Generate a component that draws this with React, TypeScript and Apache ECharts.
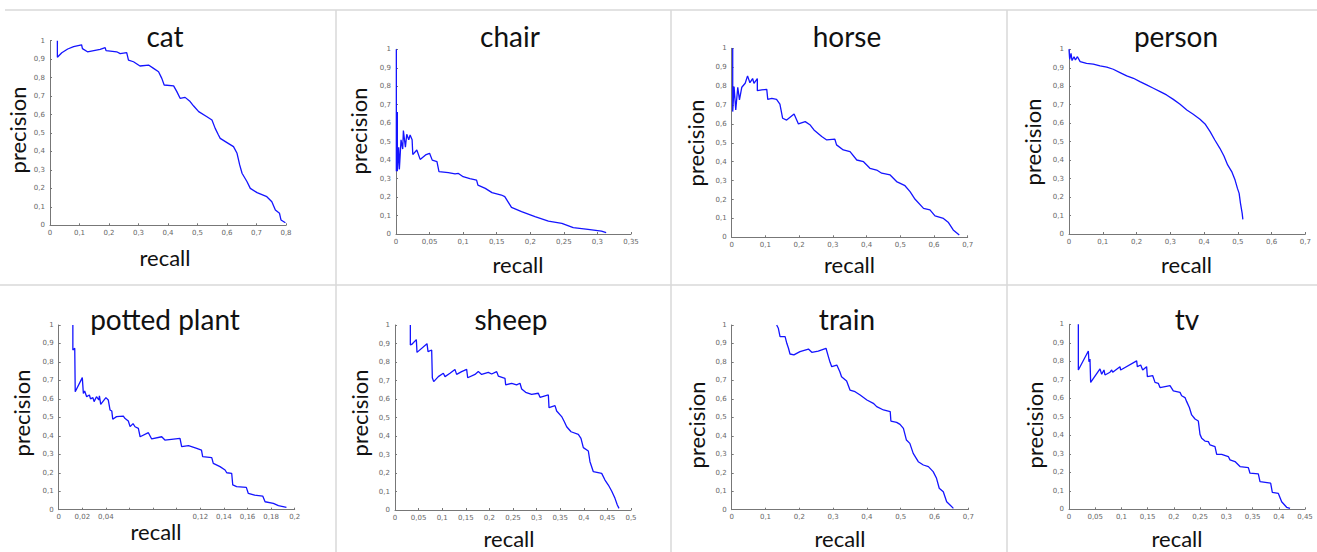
import React, { useEffect, useRef } from "react";
import * as echarts from "echarts";

// ---- Data: [recall, precision] pairs ----
const categories = ["cat", "chair", "horse", "person", "potted plant", "sheep", "train", "tv"];

const catPR = [
  [0.025, 1.0], [0.025, 0.91], [0.04, 0.935], [0.06, 0.955], [0.08, 0.968], [0.107, 0.978], [0.11, 0.957],
  [0.127, 0.94], [0.17, 0.953], [0.187, 0.962], [0.19, 0.946], [0.226, 0.94], [0.238, 0.93], [0.26, 0.935],
  [0.266, 0.895], [0.283, 0.886], [0.305, 0.863], [0.334, 0.868], [0.351, 0.85], [0.368, 0.832], [0.379, 0.796],
  [0.387, 0.76], [0.419, 0.755], [0.43, 0.724], [0.441, 0.688], [0.458, 0.693], [0.475, 0.67], [0.487, 0.646],
  [0.504, 0.616], [0.532, 0.588], [0.549, 0.57], [0.56, 0.525], [0.571, 0.489], [0.577, 0.471], [0.6, 0.448],
  [0.622, 0.426], [0.634, 0.39], [0.643, 0.327], [0.651, 0.282], [0.668, 0.236], [0.679, 0.2], [0.702, 0.177],
  [0.735, 0.155], [0.752, 0.128], [0.764, 0.083], [0.778, 0.065], [0.783, 0.029], [0.798, 0.014],
];

const chairPR = [
  [0.0005, 1.0], [0.0005, 0.34], [0.002, 0.66], [0.002, 0.34], [0.004, 0.47], [0.005, 0.35], [0.0075, 0.51],
  [0.01, 0.46], [0.011, 0.56], [0.014, 0.47], [0.016, 0.54], [0.019, 0.51], [0.021, 0.536], [0.024, 0.51],
  [0.025, 0.43], [0.031, 0.455], [0.036, 0.404], [0.044, 0.428], [0.05, 0.437], [0.054, 0.4], [0.061, 0.392],
  [0.064, 0.338], [0.078, 0.332], [0.088, 0.325], [0.093, 0.328], [0.1, 0.31], [0.11, 0.3], [0.12, 0.292],
  [0.122, 0.265], [0.133, 0.247], [0.143, 0.224], [0.157, 0.211], [0.162, 0.202], [0.172, 0.144], [0.187, 0.121],
  [0.207, 0.094], [0.227, 0.07], [0.247, 0.058], [0.264, 0.034], [0.286, 0.025], [0.306, 0.016], [0.313, 0.007],
];

const horsePR = [
  [0.003, 1.0], [0.003, 0.665], [0.007, 0.797], [0.012, 0.674], [0.018, 0.794], [0.023, 0.727], [0.03, 0.794],
  [0.04, 0.815], [0.047, 0.854], [0.054, 0.818], [0.062, 0.84], [0.066, 0.815], [0.076, 0.84], [0.076, 0.776],
  [0.089, 0.78], [0.104, 0.783], [0.107, 0.73], [0.119, 0.735], [0.133, 0.73], [0.143, 0.705], [0.151, 0.63],
  [0.163, 0.62], [0.185, 0.652], [0.198, 0.6], [0.218, 0.612], [0.233, 0.594], [0.244, 0.568], [0.267, 0.533],
  [0.282, 0.515], [0.306, 0.519], [0.311, 0.489], [0.331, 0.462], [0.351, 0.453], [0.371, 0.409], [0.391, 0.4],
  [0.41, 0.365], [0.43, 0.356], [0.445, 0.339], [0.47, 0.33], [0.489, 0.295], [0.514, 0.273], [0.529, 0.242],
  [0.544, 0.201], [0.569, 0.153], [0.588, 0.145], [0.603, 0.113], [0.628, 0.1], [0.643, 0.078], [0.657, 0.039],
  [0.675, 0.012],
];

const personPR = [
  [0.0, 1.0], [0.002, 0.946], [0.006, 0.978], [0.009, 0.939], [0.015, 0.96], [0.019, 0.942], [0.025, 0.96],
  [0.033, 0.933], [0.052, 0.924], [0.072, 0.92], [0.092, 0.91], [0.112, 0.903], [0.131, 0.892], [0.151, 0.874],
  [0.171, 0.856], [0.191, 0.843], [0.21, 0.825], [0.23, 0.807], [0.25, 0.789], [0.27, 0.771], [0.289, 0.753],
  [0.309, 0.729], [0.329, 0.702], [0.349, 0.671], [0.368, 0.648], [0.388, 0.621], [0.403, 0.596], [0.418, 0.554],
  [0.432, 0.509], [0.447, 0.464], [0.459, 0.422], [0.47, 0.374], [0.482, 0.338], [0.492, 0.292], [0.499, 0.247],
  [0.504, 0.22], [0.508, 0.166], [0.513, 0.112], [0.515, 0.079],
];

const pottedPR = [
  [0.012, 1.0], [0.012, 0.865], [0.0136, 0.874], [0.014, 0.639], [0.02, 0.715], [0.0209, 0.63], [0.022, 0.643],
  [0.0237, 0.612], [0.026, 0.621], [0.027, 0.6], [0.029, 0.607], [0.03, 0.585], [0.032, 0.612], [0.034, 0.594],
  [0.0345, 0.617], [0.0356, 0.57], [0.04, 0.607], [0.042, 0.594], [0.0435, 0.54], [0.045, 0.534], [0.0458, 0.49],
  [0.049, 0.504], [0.0548, 0.507], [0.056, 0.495], [0.059, 0.48], [0.0605, 0.45], [0.063, 0.466], [0.0647, 0.449],
  [0.0675, 0.44], [0.069, 0.395], [0.076, 0.417], [0.0788, 0.383], [0.0873, 0.395], [0.09, 0.377], [0.1028, 0.386],
  [0.1042, 0.341], [0.11, 0.347], [0.117, 0.332], [0.121, 0.323], [0.122, 0.287], [0.1297, 0.282], [0.131, 0.251],
  [0.1367, 0.233], [0.141, 0.215], [0.1424, 0.2], [0.1466, 0.197], [0.1475, 0.134], [0.1508, 0.125], [0.159, 0.121],
  [0.1607, 0.088], [0.166, 0.079], [0.1729, 0.074], [0.1749, 0.043], [0.1819, 0.034], [0.1862, 0.022], [0.193, 0.013],
];

const sheepPR = [
  [0.0325, 1.0], [0.0325, 0.892], [0.0353, 0.895], [0.0452, 0.921], [0.0466, 0.852], [0.0678, 0.899], [0.07, 0.856],
  [0.0777, 0.865], [0.0791, 0.715], [0.082, 0.694], [0.0918, 0.721], [0.1024, 0.739], [0.106, 0.721], [0.1165, 0.739],
  [0.127, 0.76], [0.1306, 0.733], [0.1412, 0.748], [0.1518, 0.76], [0.154, 0.715], [0.1695, 0.733], [0.1765, 0.748],
  [0.1836, 0.733], [0.1977, 0.744], [0.2048, 0.735], [0.2154, 0.748], [0.2189, 0.724], [0.233, 0.712], [0.2345, 0.676],
  [0.2472, 0.685], [0.2577, 0.676], [0.2648, 0.685], [0.2684, 0.654], [0.2768, 0.636], [0.2895, 0.625], [0.3037, 0.631],
  [0.3072, 0.609], [0.3249, 0.622], [0.3263, 0.553], [0.339, 0.564], [0.3425, 0.535], [0.3531, 0.505], [0.3588, 0.477],
  [0.3637, 0.45], [0.373, 0.423], [0.3884, 0.409], [0.394, 0.387], [0.399, 0.337], [0.4096, 0.319], [0.4131, 0.261],
  [0.4202, 0.207], [0.4379, 0.198], [0.4449, 0.162], [0.452, 0.135], [0.459, 0.103], [0.4661, 0.063], [0.471, 0.027],
  [0.4746, 0.009],
];

const trainPR = [
  [0.133, 1.0], [0.138, 0.982], [0.143, 0.937], [0.158, 0.937], [0.163, 0.901], [0.168, 0.874], [0.1725, 0.843],
  [0.184, 0.838], [0.202, 0.856], [0.227, 0.87], [0.237, 0.852], [0.256, 0.859], [0.279, 0.874], [0.286, 0.829],
  [0.291, 0.798], [0.296, 0.774], [0.311, 0.783], [0.32, 0.747], [0.325, 0.72], [0.34, 0.697], [0.35, 0.648],
  [0.365, 0.639], [0.38, 0.621], [0.4, 0.594], [0.419, 0.576], [0.429, 0.558], [0.449, 0.54], [0.469, 0.531],
  [0.471, 0.48], [0.488, 0.473], [0.498, 0.462], [0.508, 0.44], [0.517, 0.377], [0.527, 0.359], [0.537, 0.305],
  [0.552, 0.26], [0.567, 0.242], [0.582, 0.233], [0.596, 0.206], [0.606, 0.17], [0.614, 0.116], [0.626, 0.097],
  [0.636, 0.043], [0.646, 0.025], [0.656, 0.007],
];

const tvPR = [
  [0.0178, 1.0], [0.0178, 0.753], [0.0369, 0.856], [0.038, 0.798], [0.04, 0.812], [0.0413, 0.686], [0.0591, 0.759],
  [0.0623, 0.73], [0.0667, 0.753], [0.0686, 0.726], [0.0782, 0.741], [0.0814, 0.753], [0.0833, 0.741], [0.0972, 0.771],
  [0.0985, 0.753], [0.129, 0.802], [0.1303, 0.771], [0.1367, 0.78], [0.1405, 0.753], [0.148, 0.771], [0.1494, 0.717],
  [0.1595, 0.723], [0.164, 0.686], [0.1703, 0.681], [0.1735, 0.658], [0.1831, 0.663], [0.1926, 0.668], [0.1989, 0.64],
  [0.2117, 0.632], [0.2148, 0.614], [0.2212, 0.604], [0.2244, 0.582], [0.2295, 0.55], [0.2339, 0.51], [0.2403, 0.488],
  [0.2466, 0.477], [0.2498, 0.405], [0.253, 0.384], [0.2593, 0.369], [0.2657, 0.366], [0.2689, 0.348], [0.2784, 0.339],
  [0.2816, 0.297], [0.2911, 0.297], [0.3038, 0.285], [0.307, 0.267], [0.3165, 0.258], [0.3261, 0.231], [0.342, 0.225],
  [0.3451, 0.195], [0.361, 0.191], [0.3642, 0.15], [0.3845, 0.141], [0.3877, 0.092], [0.3992, 0.086], [0.4055, 0.041],
  [0.415, 0.011], [0.4214, 0.005],
];

const seriesData = [catPR, chairPR, horsePR, personPR, pottedPR, sheepPR, trainPR, tvPR];

// x-axis range (max) and tick step per panel
const recallMax = [0.8, 0.35, 0.7, 0.7, 0.2, 0.5, 0.7, 0.45];
const recallStep = [0.1, 0.05, 0.1, 0.1, 0.02, 0.05, 0.1, 0.05];
// recall tick labels hidden in the reference (potted plant)
const hiddenRecallTicks = [[], [], [], [], [0.06, 0.08, 0.1], [], [], []];

// ---- Layout (pixels) ----
const grids = [
  { left: 50, top: 40.7, width: 236, height: 184.6 },
  { left: 396, top: 49.3, width: 235, height: 184.7 },
  { left: 731.7, top: 48.3, width: 236, height: 189 },
  { left: 1069, top: 49.3, width: 236.3, height: 184.7 },
  { left: 58.7, top: 325, width: 236, height: 184.7 },
  { left: 395, top: 325, width: 236, height: 185 },
  { left: 731.7, top: 325, width: 236.6, height: 184.7 },
  { left: 1069, top: 324.3, width: 236, height: 185 },
];
const titlePos = [[165, 36], [510, 36], [847, 36], [1176, 36], [165, 319], [511, 319], [847, 319], [1187, 319]];
const precisionPos = [[17.5, 130], [358, 131], [695, 143], [1032, 142], [21, 413], [359, 413], [696.6, 425], [1034, 425]];
const recallPos = [[165, 257.5], [518, 264.5], [849.5, 264], [1186.5, 264], [156, 531.5], [509, 538], [840, 538], [1177, 538]];

const FONT = "Lato, 'Open Sans', 'DejaVu Sans', sans-serif";

function fmt(v: number) {
  return String(+v.toFixed(3)).replace(".", ",");
}

export default function App() {
  const ref = useRef<HTMLDivElement>(null);

  useEffect(() => {
    if (!ref.current) return;
    const chart = echarts.init(ref.current, undefined, { renderer: "svg" });

    const axisCommon = {
      axisLine: { show: true, lineStyle: { color: "#777", width: 1 } },
      axisTick: { show: true, inside: true, length: 2, lineStyle: { color: "#777" } },
      splitLine: { show: false },
    };

    const xAxis = categories.map((_, i) => ({
      type: "value",
      gridIndex: i,
      min: 0,
      max: recallMax[i],
      interval: recallStep[i],
      ...axisCommon,
      axisLabel: {
        fontSize: 7,
        color: "#666",
        fontFamily: "'DejaVu Sans', sans-serif",
        margin: 4,
        showMaxLabel: true,
        formatter: (v: number) =>
          hiddenRecallTicks[i].some((h) => Math.abs(h - v) < 1e-6) ? "" : fmt(v),
      },
    }));

    const yAxis = categories.map((_, i) => ({
      type: "value",
      gridIndex: i,
      min: 0,
      max: 1,
      interval: 0.1,
      ...axisCommon,
      axisLabel: {
        fontSize: 7,
        color: "#666",
        fontFamily: "'DejaVu Sans', sans-serif",
        margin: 5,
        formatter: (v: number) => fmt(v),
      },
    }));

    const series = seriesData.map((d, i) => ({
      type: "line",
      name: categories[i],
      xAxisIndex: i,
      yAxisIndex: i,
      data: d,
      showSymbol: false,
      symbol: "none",
      lineStyle: { color: "#1414ff", width: 1.3 },
      silent: true,
    }));

    const graphics: any[] = [];
    // separator lines
    const sep = { stroke: "#d9d9d9", lineWidth: 1.5 };
    graphics.push({ type: "line", shape: { x1: 5, y1: 10, x2: 1317, y2: 10 }, style: sep, silent: true });
    graphics.push({ type: "line", shape: { x1: 0, y1: 285, x2: 1317, y2: 285 }, style: sep, silent: true });
    [336, 671, 1007].forEach((x) =>
      graphics.push({ type: "line", shape: { x1: x, y1: 10, x2: x, y2: 552 }, style: sep, silent: true })
    );

    categories.forEach((c, i) => {
      graphics.push({
        type: "text",
        x: titlePos[i][0],
        y: titlePos[i][1],
        style: { text: c, fontSize: 28, fontFamily: FONT, fill: "#111", align: "center", verticalAlign: "middle" },
        silent: true,
      });
      graphics.push({
        type: "text",
        x: precisionPos[i][0],
        y: precisionPos[i][1],
        rotation: Math.PI / 2,
        style: { text: "precision", fontSize: 22, fontFamily: FONT, fill: "#111", align: "center", verticalAlign: "middle" },
        silent: true,
      });
      graphics.push({
        type: "text",
        x: recallPos[i][0],
        y: recallPos[i][1],
        style: { text: "recall", fontSize: 22, fontFamily: FONT, fill: "#111", align: "center", verticalAlign: "middle" },
        silent: true,
      });
    });

    chart.setOption({
      animation: false,
      backgroundColor: "#ffffff",
      grid: grids.map((g) => ({ ...g, containLabel: false })),
      xAxis,
      yAxis,
      series,
      graphic: graphics,
    });

    return () => chart.dispose();
  }, []);

  return (
    <div
      ref={ref}
      style={{ position: "absolute", left: 0, top: 0, width: 1317, height: 552 }}
    />
  );
}
